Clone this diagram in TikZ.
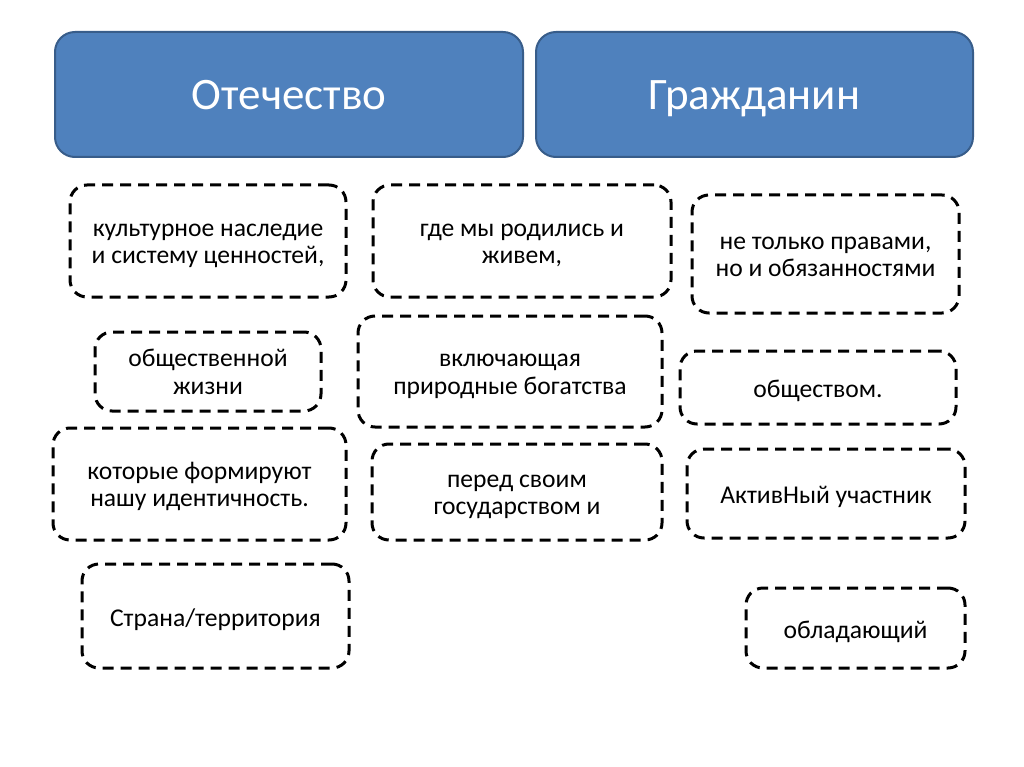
\documentclass[tikz,border=0pt]{standalone}
\usepackage{fontspec}
\setmainfont{Carlito}
\definecolor{hdrfill}{HTML}{4F81BD}
\definecolor{hdrline}{HTML}{385D8A}
\begin{document}
\begin{tikzpicture}[x=1pt,y=-1pt,
  hdr/.style={draw=hdrline, line width=2pt, fill=hdrfill, rounded corners=20pt,
    text=white, font=\fontsize{45}{54}\selectfont, inner sep=0pt,
    text height=35pt, text depth=4pt},
  dbox/.style={draw=black, line width=3pt, dash pattern=on 11pt off 7pt,
    rounded corners=17pt, align=center, inner sep=0pt,
    font=\fontsize{25.6}{27.5}\selectfont,
    text height=24pt, text depth=4pt},
  twolines/.style={text height=49pt}]
\useasboundingbox[fill=white] (0,0) rectangle (1024,767);
\node[hdr, minimum width=468pt, minimum height=125pt] (h1) at (289,94.5) {Отечество};
\node[hdr, minimum width=437pt, minimum height=125pt] (h2) at (754.5,94.5) {Гражданин};
\node[dbox, twolines, minimum width=276pt, minimum height=112pt] (b1) at (208,241) {культурное наследие\\и систему ценностей,};
\node[dbox, twolines, minimum width=298pt, minimum height=112pt] (b2) at (522,241) {где мы родились и\\живем,};
\node[dbox, twolines, minimum width=267pt, minimum height=118pt] (b3) at (825.5,254) {не только правами,\\но и обязанностями};
\node[dbox, twolines, minimum width=226pt, minimum height=79pt] (b4) at (208,371.5) {общественной\\жизни};
\node[dbox, twolines, minimum width=304pt, minimum height=111pt] (b5) at (510,371.5) {включающая\\природные богатства};
\node[dbox, minimum width=276pt, minimum height=73pt] (b6) at (818,387.5) {обществом.};
\node[dbox, twolines, minimum width=293pt, minimum height=112pt] (b7) at (199.5,484) {которые формируют\\нашу идентичность.};
\node[dbox, twolines, minimum width=290pt, minimum height=96pt] (b8) at (517,492) {перед своим\\государством и};
\node[dbox, minimum width=278pt, minimum height=89pt] (b9) at (826,493.5) {АктивНый участник};
\node[dbox, minimum width=267pt, minimum height=104pt] (b10) at (215.5,616) {Страна/территория};
\node[dbox, minimum width=219pt, minimum height=80pt] (b11) at (855.5,628) {обладающий};
\end{tikzpicture}
\end{document}
